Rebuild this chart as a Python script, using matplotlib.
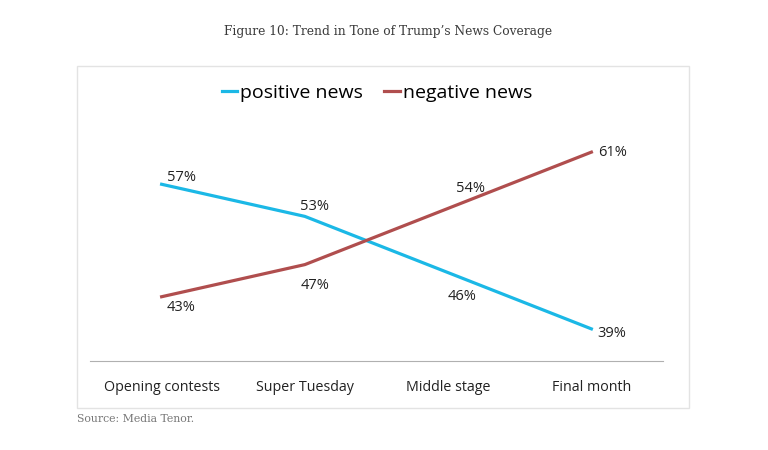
import matplotlib.pyplot as plt
from matplotlib.patches import Rectangle

# data
stages = ['Opening contests', 'Super Tuesday', 'Middle stage', 'Final month']
positive = [57, 53, 46, 39]
negative = [43, 47, 54, 61]

# label offsets (points) for each data label
pos_offsets = [(14, 5), (7, 7), (10, -17), (15, -3)]
neg_offsets = [(14, -8), (7, -15), (16, 14), (15, 0)]

blue = '#1bb8e6'
red = '#b04e4e'

fig = plt.figure(figsize=(7.68, 4.5), dpi=100)

# light frame around the chart
fig.patches.append(Rectangle((77 / 768, 1 - 408 / 450), 612 / 768, 342 / 450,
                             transform=fig.transFigure, fill=False,
                             edgecolor='#e3e3e3', linewidth=1))

ax = fig.add_axes([90 / 768, 1 - 361 / 450, 573 / 768, 241 / 450])
x = range(len(stages))
ax.plot(x, positive, color=blue, lw=2.3, label='positive news')
ax.plot(x, negative, color=red, lw=2.3, label='negative news')

for i, (p, n) in enumerate(zip(positive, negative)):
    ax.annotate(f'{p}%', (i, p), xytext=pos_offsets[i], textcoords='offset points',
                ha='center', va='center', fontsize=10.5, family='Open Sans', color='#222222')
    ax.annotate(f'{n}%', (i, n), xytext=neg_offsets[i], textcoords='offset points',
                ha='center', va='center', fontsize=10.5, family='Open Sans', color='#222222')

ax.set_xlim(-0.5, 3.5)
ax.set_ylim(35, 65)
ax.set_xticks(list(x))
ax.set_xticklabels(stages, fontsize=10.3, family='Open Sans', color='#222222')
ax.tick_params(axis='x', length=0, pad=14)
ax.set_yticks([])
for s in ['top', 'left', 'right']:
    ax.spines[s].set_visible(False)
ax.spines['bottom'].set_color('#b0b0b0')

fig.legend(loc='center', bbox_to_anchor=(377 / 768, 1 - 93 / 450), ncol=2,
           frameon=False, handlelength=0.8, handletextpad=0.15, columnspacing=1.1,
           prop={'family': 'Open Sans', 'size': 14})

fig.text(388 / 768, 1 - 32 / 450, 'Figure 10: Trend in Tone of Trump\u2019s News Coverage',
         ha='center', va='center', fontsize=8.8, family='DejaVu Serif',
         color='#3a3a3a')
fig.text(77 / 768, 1 - 419 / 450, 'Source: Media Tenor.',
         ha='left', va='center', fontsize=7.8, family='DejaVu Serif', color='#777777')

fig.savefig('out.png', dpi=100)
